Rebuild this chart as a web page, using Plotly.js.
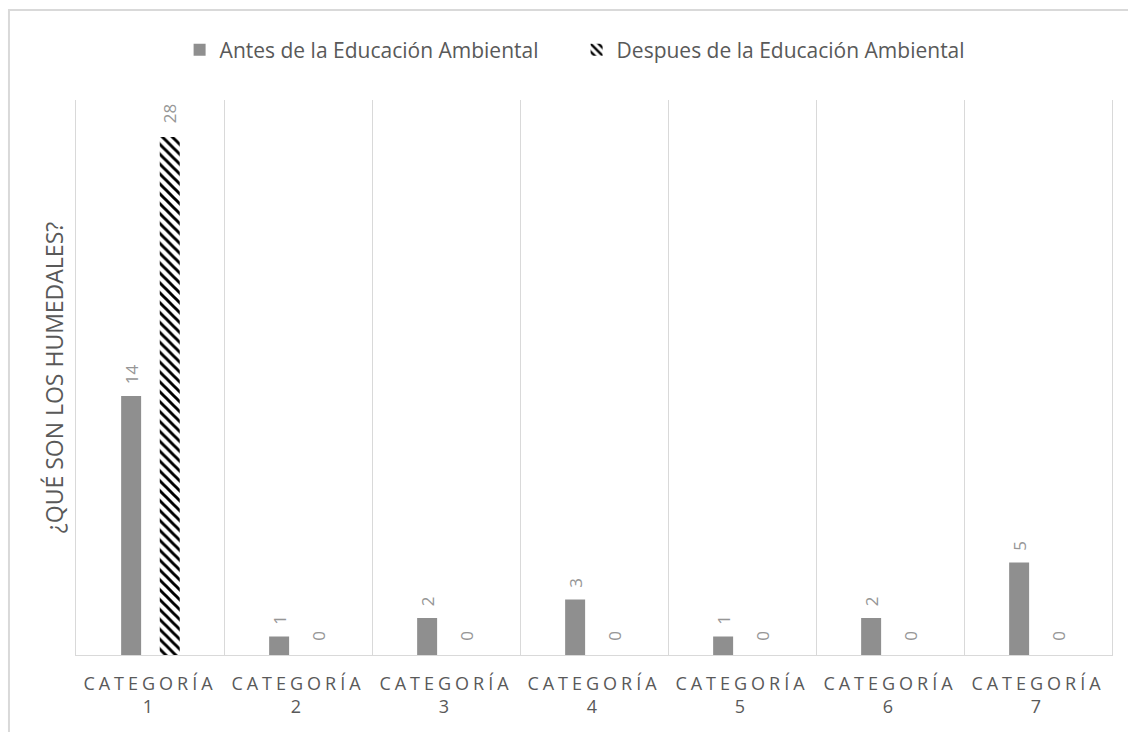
<!DOCTYPE html>
<html>
<head>
<meta charset="utf-8">
<script src="https://cdn.plot.ly/plotly-3.0.1.min.js"></script>
<style>
  html, body { margin: 0; padding: 0; background: #fff; }
  #chart { width: 1128px; height: 732px; }
  .xtick text { letter-spacing: 4px; }
</style>
</head>
<body>
<div id="chart"></div>
<script>
// ---- data ----
const categories = ['CATEGORÍA<br>1', 'CATEGORÍA<br>2', 'CATEGORÍA<br>3', 'CATEGORÍA<br>4', 'CATEGORÍA<br>5', 'CATEGORÍA<br>6', 'CATEGORÍA<br>7'];
const antesValues = [14, 1, 2, 3, 1, 2, 5];
const despuesValues = [28, 0, 0, 0, 0, 0, 0];
const seriesNames = ['Antes de la Educación Ambiental', 'Despues de la Educación Ambiental'];
const yTitle = '¿QUÉ SON LOS HUMEDALES?';

// ---- style ----
const BAR_W = 0.135;
const OFF_A = -0.195;
const OFF_D = 0.066;
const FONT = 'Open Sans, Noto Sans, sans-serif';

const traces = [
  {
    type: 'bar', name: seriesNames[0], x: categories, y: antesValues,
    width: BAR_W, offset: OFF_A,
    marker: { color: '#8f8f8f', line: { width: 0 } },
    hoverinfo: 'skip'
  },
  {
    type: 'bar', name: seriesNames[1], x: categories, y: despuesValues,
    width: BAR_W, offset: OFF_D,
    marker: { color: '#ffffff', line: { width: 0 },
      pattern: { shape: '\\', fgcolor: '#000000', bgcolor: '#ffffff', size: 7, solidity: 0.42 } },
    hoverinfo: 'skip'
  }
];

// data labels built from the arrays
const annotations = [];
antesValues.forEach((v, i) => annotations.push({
  x: i + OFF_A + BAR_W / 2, y: v, xref: 'x', yref: 'y', text: String(v),
  textangle: -90, showarrow: false, xanchor: 'center', yanchor: 'bottom', yshift: 10,
  font: { family: FONT, size: 17, color: '#969696' }
}));
despuesValues.forEach((v, i) => annotations.push({
  x: i + OFF_D + BAR_W / 2, y: v, xref: 'x', yref: 'y', text: String(v),
  textangle: -90, showarrow: false, xanchor: 'center', yanchor: 'bottom', yshift: 12,
  font: { family: FONT, size: 17, color: '#969696' }
}));

const layout = {
  width: 1128, height: 732,
  paper_bgcolor: '#ffffff', plot_bgcolor: '#ffffff',
  margin: { l: 76, r: 16, t: 100, b: 77 },
  font: { family: FONT, color: '#595959' },
  showlegend: true,
  legend: {
    orientation: 'h', x: 0.1, xanchor: 'left', y: 1.09, yanchor: 'middle',
    font: { family: FONT, size: 21, color: '#595959' },
    entrywidth: 352, entrywidthmode: 'pixels',
    itemclick: false, itemdoubleclick: false, tracegroupgap: 0
  },
  xaxis: {
    type: 'category', tickson: 'boundaries',
    showgrid: true, gridcolor: '#d9d9d9', gridwidth: 1,
    showline: true, linecolor: '#d9d9d9', linewidth: 1,
    ticks: '', ticklabelstandoff: 12,
    tickfont: { family: FONT, size: 18, color: '#595959' },
    fixedrange: true
  },
  yaxis: {
    range: [0, 30], showgrid: false, zeroline: false,
    showline: true, mirror: true, linecolor: '#d9d9d9', linewidth: 1,
    showticklabels: false, ticks: '',
    title: { text: yTitle, font: { family: FONT, size: 23, color: '#595959' }, standoff: 4 },
    fixedrange: true
  },
  annotations: annotations,
  shapes: [{
    type: 'rect', xref: 'paper', yref: 'paper',
    x0: -0.0647, x1: 1.06, y0: -0.2, y1: 1.162,
    line: { color: '#d9d9d9', width: 2 }, fillcolor: 'rgba(0,0,0,0)', layer: 'below'
  }]
};

Plotly.newPlot('chart', traces, layout, { displayModeBar: false, staticPlot: true });
</script>
</body>
</html>
